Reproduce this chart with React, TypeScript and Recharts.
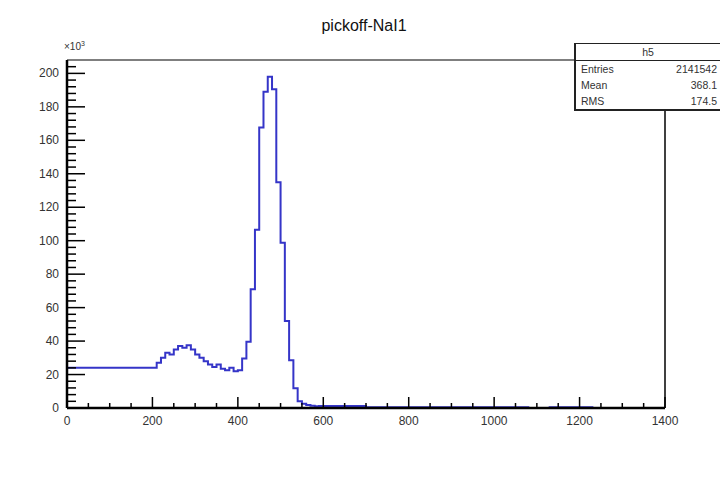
import { LineChart, Line, XAxis, YAxis } from "recharts";

// histogram: left bin edge (channel) and counts in units of 10^3
const binEdges = [
  0, 210, 220, 230, 240, 250, 260, 270, 280, 290, 300, 310, 320, 330, 340, 350,
  360, 370, 380, 390, 400, 410, 420, 430, 440, 450, 460, 470, 480, 490, 500,
  510, 520, 530, 540, 550, 560, 570, 580, 590, 700, 1080, 1130, 1230, 1400,
];
const counts = [
  24, 27, 30, 33, 32, 35, 37, 36, 37.5, 35, 32, 30, 28, 26, 24.5, 26,
  23.5, 22.5, 24, 22, 22.5, 29.6, 39.6, 71, 106.5, 167.6, 189, 198, 190.5, 135,
  98.8, 52, 28.6, 11.8, 4, 2.5, 1.8, 1.3, 1.0, 1.2, 0.5, 0, 0.5, 0, 0,
];

const xMajor = [0, 200, 400, 600, 800, 1000, 1200, 1400];
const yMajor = [0, 20, 40, 60, 80, 100, 120, 140, 160, 180, 200];

const title = "pickoff-NaI1";
const statsName = "h5";
const statsRows = [
  ["Entries", "2141542"],
  ["Mean", "368.1"],
  ["RMS", "174.5"],
];

const data = binEdges.map((x, i) => ({ x, v: counts[i] }));

// minor tick positions (axis divisions, not data)
const xTicks: number[] = [];
for (let t = 0; t <= 1400; t += 50) xTicks.push(t);
const yTicks: number[] = [];
for (let t = 0; t <= 204; t += 4) yTicks.push(t);

const FONT = "'Liberation Sans', Arial, Helvetica, sans-serif";
const LABEL = "#333";

function XTick({ x, y, payload }: any) {
  const v = payload.value;
  const major = xMajor.includes(v);
  return (
    <g>
      <line x1={x} x2={x} y1={y} y2={y - (major ? 11 : 5)} stroke="#000" strokeWidth={1.5} />
      {major && (
        <text x={x} y={y + 17} textAnchor="middle" fontSize={12} fill={LABEL} fontFamily={FONT}>
          {v}
        </text>
      )}
    </g>
  );
}

function YTick({ x, y, payload }: any) {
  const v = payload.value;
  const major = yMajor.includes(v);
  return (
    <g>
      <line x1={x} x2={x + (major ? 18 : 9)} y1={y} y2={y} stroke="#000" strokeWidth={1.5} />
      {major && (
        <text x={x - 8} y={y + 4} textAnchor="end" fontSize={12} fill={LABEL} fontFamily={FONT}>
          {v}
        </text>
      )}
    </g>
  );
}

export default function App() {
  return (
    <div
      style={{
        position: "absolute",
        left: 0,
        top: 0,
        width: 720,
        height: 479,
        background: "#fff",
        fontFamily: FONT,
      }}
    >
      <LineChart
        width={720}
        height={479}
        data={data}
        margin={{ top: 59, right: 54, bottom: 70, left: 66 }}
      >
        <XAxis
          dataKey="x"
          type="number"
          domain={[0, 1400]}
          ticks={xTicks}
          interval={0}
          height={1}
          tickSize={0}
          tickMargin={0}
          tickLine={false}
          tick={<XTick />}
          axisLine={{ stroke: "#000", strokeWidth: 2.5 }}
        />
        <XAxis
          xAxisId="top"
          orientation="top"
          type="number"
          domain={[0, 1400]}
          height={1}
          tick={false}
          tickLine={false}
          axisLine={{ stroke: "#555", strokeWidth: 1.5 }}
        />
        <YAxis
          type="number"
          domain={[0, 208]}
          ticks={yTicks}
          interval={0}
          width={1}
          tickSize={0}
          tickMargin={0}
          tickLine={false}
          tick={<YTick />}
          axisLine={{ stroke: "#000", strokeWidth: 2.5 }}
        />
        <YAxis
          yAxisId="r"
          orientation="right"
          type="number"
          domain={[0, 208]}
          width={1}
          tick={false}
          tickLine={false}
          axisLine={{ stroke: "#000", strokeWidth: 1.5 }}
        />
        <Line
          dataKey="v"
          type="stepAfter"
          stroke="#3535c8"
          strokeWidth={2}
          dot={false}
          activeDot={false}
          isAnimationActive={false}
        />
      </LineChart>

      <div
        style={{
          position: "absolute",
          left: 264,
          width: 200,
          top: 17,
          textAlign: "center",
          fontSize: 16,
          color: "#111",
        }}
      >
        {title}
      </div>

      <div style={{ position: "absolute", left: 64, top: 40, fontSize: 10, color: LABEL }}>
        ×10<sup style={{ fontSize: 7 }}>3</sup>
      </div>

      <div
        style={{
          position: "absolute",
          left: 574,
          top: 43,
          width: 146,
          height: 68,
          borderTop: "1px solid #222",
          borderLeft: "2px solid #222",
          borderBottom: "2px solid #222",
          background: "#fff",
          fontSize: 10.5,
          color: "#333",
          boxSizing: "border-box",
        }}
      >
        <div
          style={{
            height: 17,
            lineHeight: "16px",
            textAlign: "center",
            borderBottom: "1px solid #222",
            boxSizing: "border-box",
          }}
        >
          {statsName}
        </div>
        {statsRows.map(([k, v]) => (
          <div
            key={k}
            style={{
              display: "flex",
              justifyContent: "space-between",
              height: 16,
              lineHeight: "16px",
              padding: "0 3px 0 5px",
            }}
          >
            <span>{k}</span>
            <span>{v}</span>
          </div>
        ))}
      </div>
    </div>
  );
}
